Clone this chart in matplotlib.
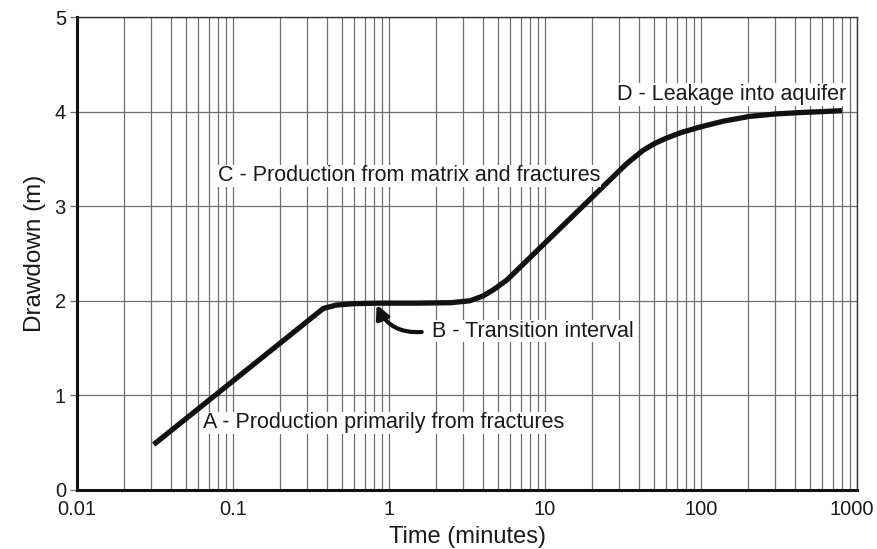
import matplotlib
matplotlib.use("Agg")
import matplotlib.pyplot as plt
from matplotlib.ticker import LogLocator, FixedLocator, NullFormatter
from matplotlib.transforms import ScaledTranslation

plt.rcParams['font.family'] = ['Liberation Sans', 'DejaVu Sans']

# drawdown curve for a dual-porosity aquifer test
time_min = [0.031, 0.38, 0.46, 0.6, 0.85, 1.5, 2.5, 3.3, 4.0, 4.7, 5.7,
            33.4, 42.5, 50, 60, 75, 100, 140, 206, 300, 430, 600, 800]
drawdown = [0.48, 1.92, 1.955, 1.97, 1.975, 1.975, 1.98, 2.0, 2.05, 2.12, 2.22,
            3.45, 3.59, 3.66, 3.72, 3.78, 3.84, 3.90, 3.95, 3.975, 3.99, 4.0, 4.01]

x_ticks = [0.01, 0.1, 1, 10, 100, 1000]
x_tick_labels = ["0.01", "0.1", "1", "10", "100", "1000"]
y_ticks = [0, 1, 2, 3, 4, 5]

labels = {
    "A - Production primarily from fractures": (0.0642, 0.71),
    "B - Transition interval": (1.89, 1.68),
    "C - Production from matrix and fractures": (0.0802, 3.32),
    "D - Leakage into aquifer": (28.8, 4.18),
}
arrow_tail = (1.62, 1.67)
arrow_head = (0.834, 1.96)

fig = plt.figure(figsize=(8.78, 5.49), dpi=100)
ax = fig.add_axes([0.0877, 0.1075, 0.8884, 0.8615])

grid_col = "#6e6e6e"
ax.set_xscale("log")
ax.set_xlim(0.01, 1000)
ax.set_ylim(0, 5)

ax.xaxis.set_major_locator(FixedLocator(x_ticks))
ax.set_xticklabels(x_tick_labels)
ax.xaxis.set_minor_locator(LogLocator(base=10, subs=range(2, 10)))
ax.xaxis.set_minor_formatter(NullFormatter())
ax.set_yticks(y_ticks)

ax.grid(True, which="both", axis="x", color=grid_col, lw=0.9)
ax.grid(True, which="major", axis="y", color=grid_col, lw=0.9)
ax.set_axisbelow(True)

ax.tick_params(axis="x", which="both", length=0, pad=7, labelsize=14.5, labelcolor="#1a1a1a")
ax.tick_params(axis="y", length=5, width=0.9, color=grid_col, pad=3,
               labelsize=14.5, labelcolor="#1a1a1a")

# keep the last x label inside the figure
last = ax.get_xticklabels()[-1]
last.set_transform(last.get_transform() + ScaledTranslation(-5 / 100, 0, fig.dpi_scale_trans))

for side in ["left", "bottom"]:
    ax.spines[side].set_linewidth(2.2)
    ax.spines[side].set_color("#111111")
for side in ["top", "right"]:
    ax.spines[side].set_linewidth(1.0)
    ax.spines[side].set_color("#333333")

ax.plot(time_min, drawdown, color="#111111", lw=3.8, solid_capstyle="butt",
        solid_joinstyle="round", zorder=3)

for text, (tx, ty) in labels.items():
    ax.text(tx, ty, text, fontsize=15.5, color="#1a1a1a", ha="left", va="center",
            bbox=dict(facecolor="white", edgecolor="none", pad=0.5), zorder=4)

ax.annotate("", xy=arrow_head, xytext=arrow_tail,
            arrowprops=dict(arrowstyle="-|>,head_length=0.8,head_width=0.4",
                            connectionstyle="arc3,rad=-0.35",
                            color="#111111", lw=3, shrinkA=0, shrinkB=0),
            zorder=5)

ax.set_xlabel("Time (minutes)", fontsize=17, color="#1a1a1a", labelpad=5)
ax.set_ylabel("Drawdown (m)", fontsize=17.5, color="#1a1a1a", labelpad=6)

fig.savefig("out.png", dpi=100)
